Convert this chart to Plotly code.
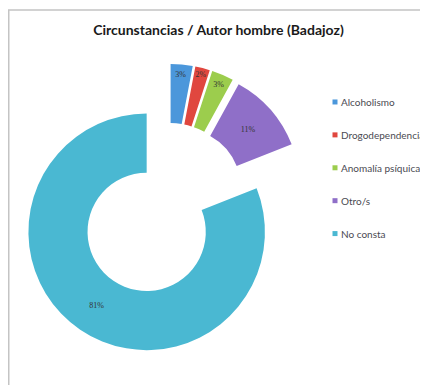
import plotly.graph_objects as go

# ---- data ----
categories = ["Alcoholismo", "Drogodependencia", "Anomalía psíquica", "Otro/s", "No consta"]
values = [3, 2, 3, 11, 81]
colors = ["#4b97db", "#e0473f", "#9ccd4d", "#8f6fc8", "#4ab8d2"]
pulls = [0.143, 0.143, 0.143, 0.143, 0.336]
title_text = "Circunstancias / Autor hombre (Badajoz)"

W, H = 428, 385
OFF = 8  # page body margin in the browser

def px_x(x):
    return (x - OFF) / W

def px_y(y):
    return 1 - (y - OFF) / H

# legend labels: add an empty second line to widen vertical spacing like the original
legend_labels = [f"<span style='font-size:10px'>{c}</span><br> " for c in categories]

cx, cy, half = 169, 199, 158
fig = go.Figure(
    go.Pie(
        labels=legend_labels,
        values=values,
        hole=0.5,
        sort=False,
        direction="clockwise",
        rotation=0,
        pull=pulls,
        marker=dict(colors=colors, line=dict(width=0)),
        texttemplate="%{percent:.0%}",
        textposition="inside",
        insidetextorientation="horizontal",
        insidetextfont=dict(family="Liberation Serif", size=8, color="#333333"),
        domain=dict(x=[px_x(cx - half), px_x(cx + half)],
                    y=[px_y(cy + half), px_y(cy - half)]),
        hoverinfo="label+percent",
    )
)

fig.update_layout(
    width=W,
    height=H,
    margin=dict(l=0, r=0, t=0, b=0, autoexpand=False),
    paper_bgcolor="white",
    plot_bgcolor="white",
    title=dict(
        text=f"<b>{title_text}</b>",
        x=px_x(218.5),
        xanchor="center",
        y=px_y(30),
        yanchor="middle",
        font=dict(family="Lato", size=14, color="#1a1a1a"),
    ),
    showlegend=True,
    legend=dict(
        x=px_x(301),
        xanchor="left",
        y=px_y(88),
        yanchor="top",
        valign="top",
        font=dict(family="Lato", size=11.5, color="#4a4a52"),
        bgcolor="rgba(0,0,0,0)",
        itemwidth=30,
    ),
    shapes=[
        dict(
            type="rect",
            xref="paper",
            yref="paper",
            x0=0.75 / W,
            x1=1.05,
            y0=-0.05,
            y1=1 - 2 / H,
            line=dict(color="#c4c4c4", width=1.5),
            fillcolor="rgba(0,0,0,0)",
            layer="below",
        )
    ],
)

post = """
var gd = document.getElementById('{plot_id}');
function fixLegend(){
  gd.querySelectorAll('.legend path.legendpie').forEach(function(p){
    p.setAttribute('d','M2.5,2.5H-2.5V-2.5H2.5Z');
    p.setAttribute('transform','translate(34,0)');
  });
}
fixLegend();
if (gd.on) { gd.on('plotly_afterplot', fixLegend); }
"""

fig.write_html("out.html", post_script=post)
